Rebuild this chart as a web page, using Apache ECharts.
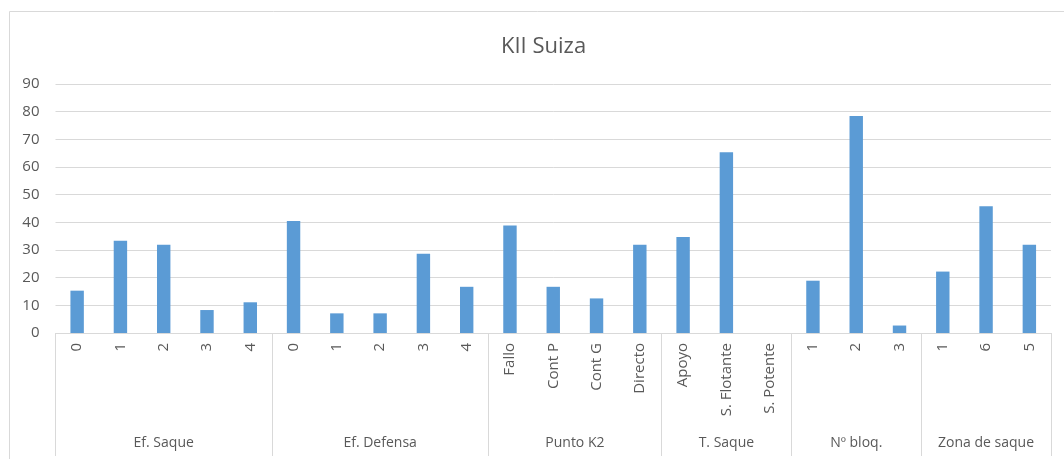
<!DOCTYPE html>
<html>
<head>
<meta charset="utf-8">
<script src="https://cdn.jsdelivr.net/npm/echarts@6/dist/echarts.min.js"></script>
<style>
  html, body { margin: 0; padding: 0; background: #fff; }
  #chart { width: 1064px; height: 459px; }
</style>
</head>
<body>
<div id="chart"></div>
<script>
// categorias de primer nivel (una por barra)
const items = ['0', '1', '2', '3', '4', '0', '1', '2', '3', '4', 'Fallo', 'Cont P', 'Cont G', 'Directo',
  'Apoyo', 'S. Flotante', 'S. Potente', '1', '2', '3', '1', '6', '5'];
const values = [15.3, 33.3, 31.9, 8.3, 11.1, 40.5, 7.1, 7.1, 28.6, 16.7, 38.9, 16.7, 12.5, 31.9,
  34.7, 65.3, 0, 18.9, 78.4, 2.7, 22.2, 45.8, 31.9];
// grupos (segundo nivel)
const groups = ['Ef. Saque', 'Ef. Defensa', 'Punto K2', 'T. Saque', 'Nº bloq.', 'Zona de saque'];
const groupSizes = [5, 5, 4, 3, 3, 3];

const TXT = '#595959';
const LINE = '#d9d9d9';
const FONT = 'Open Sans';

// eje de grupos en medias categorias: 0..2N posiciones
const halfCount = items.length * 2 + 1;
const groupAxisData = new Array(halfCount).fill('');
const bounds = new Set([0]);
let pos = 0;
groups.forEach((g, i) => {
  groupAxisData[pos + groupSizes[i]] = g;
  pos += groupSizes[i] * 2;
  bounds.add(pos);
});

const chart = echarts.init(document.getElementById('chart'));
chart.setOption({
  animation: false,
  textStyle: { fontFamily: FONT },
  title: {
    text: 'KII Suiza',
    left: 496,
    top: 31,
    textStyle: { fontSize: 22, fontWeight: 'normal', color: TXT, fontFamily: FONT }
  },
  graphic: [{
    type: 'rect',
    shape: { x: 9.5, y: 11.5, width: 1080, height: 470 },
    style: { fill: 'none', stroke: LINE, lineWidth: 1 },
    silent: true
  }],
  grid: { left: 55.5, right: 13, top: 84, bottom: 126 },
  xAxis: [{
    type: 'category',
    position: 'bottom',
    data: items,
    axisLine: { lineStyle: { color: LINE } },
    axisTick: { show: false },
    axisLabel: { interval: 0, rotate: 90, margin: 10, color: TXT, fontSize: 15, fontFamily: FONT }
  }, {
    type: 'category',
    position: 'bottom',
    boundaryGap: false,
    data: groupAxisData,
    axisLine: { show: false },
    axisTick: {
      show: true,
      length: 123,
      interval: (idx) => bounds.has(idx),
      lineStyle: { color: LINE }
    },
    axisLabel: { interval: 0, margin: 103, color: TXT, fontSize: 14, fontFamily: FONT }
  }],
  yAxis: {
    type: 'value',
    min: 0,
    max: 90,
    interval: 10,
    axisLine: { show: false },
    axisTick: { show: false },
    splitLine: { lineStyle: { color: LINE } },
    axisLabel: { margin: 16, color: TXT, fontSize: 15, fontFamily: FONT }
  },
  series: [{
    type: 'bar',
    xAxisIndex: 0,
    data: values,
    barWidth: '31%',
    itemStyle: { color: '#5b9bd5' }
  }]
});
</script>
</body>
</html>
